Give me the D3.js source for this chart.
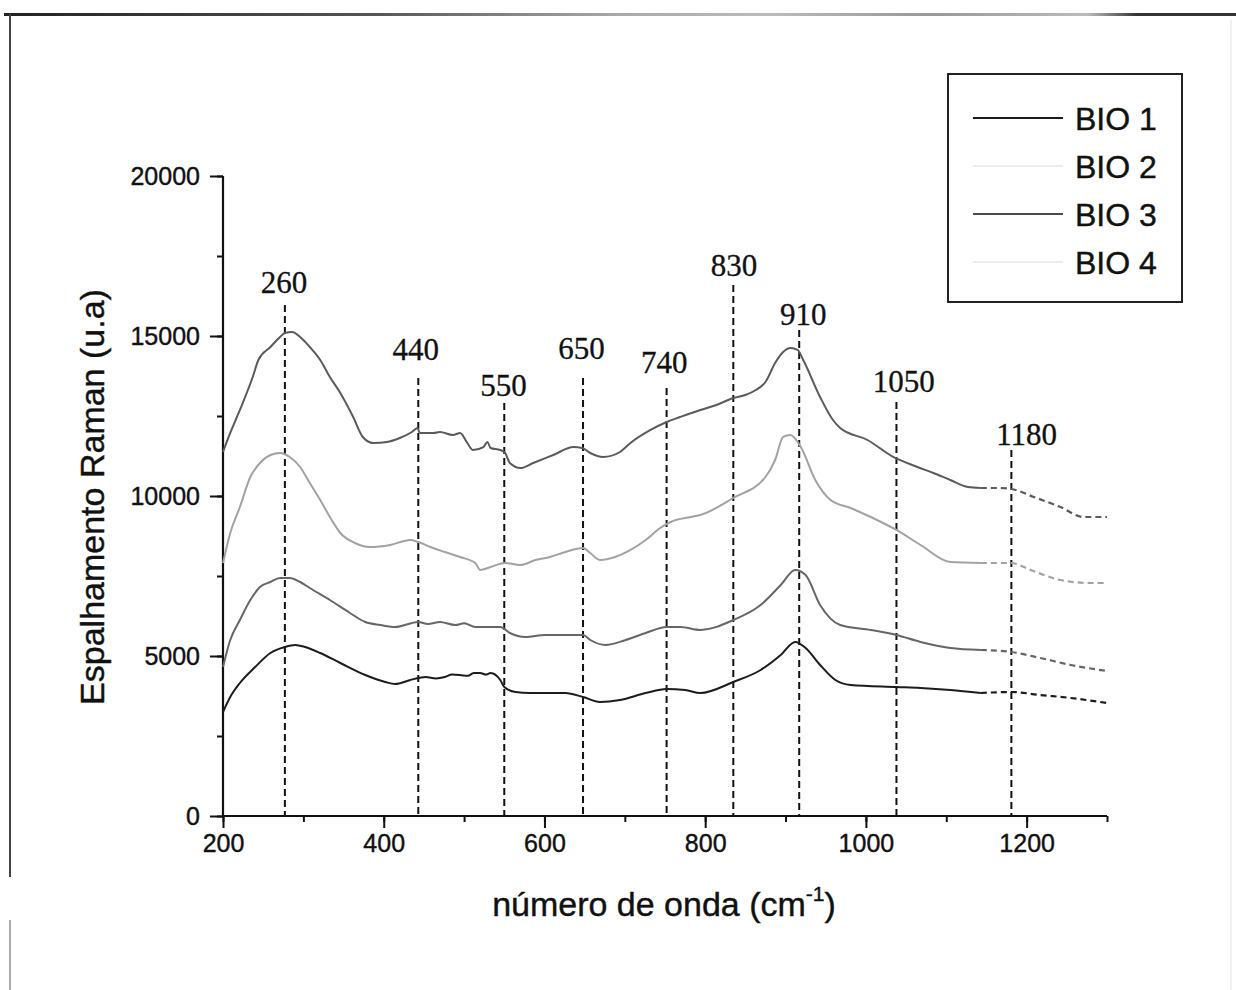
<!DOCTYPE html>
<html>
<head>
<meta charset="utf-8">
<script src="https://cdn.jsdelivr.net/npm/d3@7"></script>
<style>
  html, body { margin: 0; padding: 0; background: #fff; }
  svg { display: block; }
</style>
</head>
<body>
<svg id="chart" width="1236" height="990"></svg>
<script>
// ---------------- DATA ----------------
const seriesNames = ["BIO 1", "BIO 2", "BIO 3", "BIO 4"];

// [wavenumber (cm-1), Raman intensity (u.a)]
const bio1 = [[200,3250],[209,3719],[221,4156],[240,4656],[259,5094],[277,5281],[290,5344],[302,5281],[321,5094],[346,4781],[377,4406],[402,4188],[414,4125],[433,4250],[445,4320],[452,4344],[465,4300],[476,4344],[485,4420],[495,4406],[505,4380],[512,4470],[520,4469],[527,4420],[533,4469],[545,4250],[550,4031],[564,3875],[582,3844],[626,3844],[648,3719],[669,3563],[694,3625],[726,3844],[752,3969],[775,3938],[794,3844],[835,4188],[869,4563],[894,5031],[912,5438],[925,5250],[943,4719],[962,4250],[981,4094],[1038,4031],[1068,4000],[1105,3938],[1143,3844],[1181,3875],[1217,3781],[1255,3688],[1300,3531]];

const bio2 = [[200,7906],[209,8844],[221,9656],[234,10594],[246,11031],[259,11281],[271,11344],[283,11219],[296,10906],[308,10406],[321,9875],[333,9344],[346,8844],[364,8531],[383,8406],[408,8469],[433,8625],[443,8563],[458,8406],[476,8250],[495,8094],[514,7906],[520,7688],[533,7781],[551,7906],[570,7844],[589,8000],[607,8094],[626,8250],[648,8375],[657,8219],[669,8000],[688,8094],[707,8313],[726,8625],[744,9000],[757,9188],[782,9344],[794,9406],[835,9938],[875,10594],[887,11125],[897,11844],[906,11906],[919,11531],[937,10500],[956,9875],[981,9625],[1006,9344],[1038,8938],[1068,8469],[1105,7938],[1143,7906],[1181,7906],[1205,7688],[1242,7375],[1280,7281],[1300,7281]];

const bio3 = [[200,4656],[209,5500],[221,6125],[234,6750],[246,7156],[259,7313],[271,7438],[283,7438],[296,7313],[308,7125],[333,6750],[358,6344],[377,6063],[396,5969],[414,5906],[443,6063],[455,6000],[470,6063],[489,5969],[500,6020],[514,5906],[545,5906],[557,5719],[576,5594],[601,5656],[648,5656],[657,5500],[676,5344],[701,5500],[726,5719],[752,5906],[769,5906],[794,5813],[835,6125],[869,6594],[894,7219],[912,7688],[925,7531],[943,6594],[968,5969],[1006,5813],[1038,5656],[1068,5438],[1105,5250],[1143,5188],[1181,5125],[1217,4938],[1255,4719],[1300,4531]];

const bio4 = [[200,11375],[209,11969],[221,12688],[237,13719],[244,14250],[259,14656],[271,14969],[277,15094],[286,15125],[296,14969],[308,14656],[321,14250],[333,13719],[346,13219],[362,12469],[374,11844],[387,11656],[404,11688],[420,11813],[435,12000],[442,12125],[445,11969],[462,11969],[470,12000],[486,11906],[495,11969],[504,11656],[511,11438],[524,11531],[529,11688],[533,11500],[545,11438],[551,11344],[557,11031],[570,10875],[586,11031],[611,11281],[636,11531],[647,11500],[657,11344],[673,11219],[694,11375],[707,11656],[732,12063],[752,12313],[769,12469],[794,12688],[814,12844],[835,13063],[850,13156],[863,13313],[875,13563],[887,14156],[897,14500],[906,14625],[915,14563],[922,14250],[943,13094],[959,12375],[968,12125],[1002,11750],[1034,11219],[1064,10906],[1084,10719],[1105,10500],[1127,10281],[1143,10250],[1168,10250],[1181,10219],[1209,9969],[1242,9656],[1271,9344],[1300,9344]];

const seriesData = [bio1, bio2, bio3, bio4];

// peak annotations
const peakLabels = ["260", "440", "550", "650", "740", "830", "910", "1050", "1180"];
const peakX      = [277, 443, 550, 648, 752, 835, 917, 1038, 1181];
const peakTop    = [15969, 13688, 12906, 13688, 13375, 16594, 15188, 12938, 11438];
const labelX     = [276, 440, 549, 646, 749, 836, 922, 1047, 1200];
const labelY     = [16344, 14250, 13125, 14281, 13844, 16875, 15344, 13250, 11594];

const xDomain = [200, 1300];
const yDomain = [0, 20000];
const xMajorTicks = [200, 400, 600, 800, 1000, 1200];
const yMajorTicks = [0, 5000, 10000, 15000, 20000];

const xTitle = "número de onda (cm";
const xTitleSup = "-1";
const yTitle = "Espalhamento Raman (u.a)";

// ---------------- STYLE ----------------
const seriesColors = ["#1c1c1c", "#a2a2a2", "#666666", "#5a5a5a"];
const legendColors = ["#1c1c1c", "#ececec", "#4a4a4a", "#ececec"];
const sansFont = "Arial, 'Liberation Sans', Helvetica, sans-serif";
const serifFont = "'Times New Roman', 'Liberation Serif', Times, serif";
const dashStart = 1143;

// ---------------- DRAW ----------------
const svg = d3.select("#chart");
const x = d3.scaleLinear().domain(xDomain).range([223, 1107]);
const y = d3.scaleLinear().domain(yDomain).range([816, 176]);

// outer frame fragments (scan border)
const grad = svg.append("defs").append("linearGradient").attr("id", "topg")
  .attr("x1", "0").attr("x2", "1").attr("y1", "0").attr("y2", "0");
[[0, "#222"], [0.1, "#333"], [0.3, "#555"], [0.5, "#aaa"], [0.62, "#bbb"], [0.75, "#999"], [0.88, "#bbb"], [0.92, "#333"], [1, "#333"]]
  .forEach(s => grad.append("stop").attr("offset", s[0]).attr("stop-color", s[1]));
svg.append("rect").attr("x", 4).attr("y", 13).attr("width", 1232).attr("height", 3).attr("fill", "url(#topg)");
svg.append("line").attr("x1", 10).attr("x2", 10).attr("y1", 14).attr("y2", 877)
  .attr("stroke", "#444").attr("stroke-width", 2);
svg.append("line").attr("x1", 10).attr("x2", 10).attr("y1", 920).attr("y2", 990)
  .attr("stroke", "#aaa").attr("stroke-width", 2);
svg.append("line").attr("x1", 1231).attr("x2", 1231).attr("y1", 20).attr("y2", 990)
  .attr("stroke", "#f0f0f0").attr("stroke-width", 2);

// axes
const xAxisMinor = d3.axisBottom(x).tickValues(d3.range(200, 1301, 100)).tickSize(6).tickFormat("");
const xAxisMajor = d3.axisBottom(x).tickValues(xMajorTicks).tickSize(12).tickPadding(6).tickFormat(d3.format("d"));
const yAxisMinor = d3.axisLeft(y).tickValues(d3.range(0, 20001, 2500)).tickSize(6).tickFormat("");
const yAxisMajor = d3.axisLeft(y).tickValues(yMajorTicks).tickSize(13).tickPadding(10).tickFormat(d3.format("d"));

function styleAxis(g) {
  g.select(".domain").remove();
  g.selectAll("line").attr("stroke", "#111").attr("stroke-width", 2);
  g.selectAll("text").attr("fill", "#111").attr("stroke", "#111").attr("stroke-width", 0.4)
    .style("font-family", sansFont).style("font-size", "25px");
}
svg.append("g").attr("transform", "translate(0,816)").call(xAxisMinor).call(styleAxis);
svg.append("g").attr("transform", "translate(0,816)").call(xAxisMajor).call(styleAxis);
svg.append("g").attr("transform", "translate(223,0)").call(yAxisMinor).call(styleAxis);
svg.append("g").attr("transform", "translate(223,0)").call(yAxisMajor).call(styleAxis);

// axis lines
svg.append("line").attr("x1", x(xDomain[0])).attr("x2", x(xDomain[1])).attr("y1", y(0)).attr("y2", y(0))
  .attr("stroke", "#111").attr("stroke-width", 2.2);
svg.append("line").attr("x1", x(xDomain[0])).attr("x2", x(xDomain[0])).attr("y1", y(yDomain[1])).attr("y2", y(0))
  .attr("stroke", "#111").attr("stroke-width", 2.2);

// peak dashed lines
svg.append("g").selectAll("line").data(peakX).join("line")
  .attr("x1", d => x(d)).attr("x2", d => x(d))
  .attr("y1", (d, i) => y(peakTop[i])).attr("y2", y(0))
  .attr("stroke", "#111").attr("stroke-width", 2).attr("stroke-dasharray", "7,4");

svg.append("g").selectAll("text").data(peakLabels).join("text")
  .attr("x", (d, i) => x(labelX[i])).attr("y", (d, i) => y(labelY[i]))
  .attr("text-anchor", "middle")
  .style("font-family", serifFont).style("font-size", "31px").attr("fill", "#111")
  .attr("stroke", "#111").attr("stroke-width", 0.3)
  .text(d => d);

// curves
const line = d3.line().x(d => x(d[0])).y(d => y(d[1])).curve(d3.curveMonotoneX);
seriesData.forEach((s, i) => {
  const k = s.findIndex(d => d[0] >= dashStart);
  const solid = s.slice(0, k + 1);
  const dashed = s.slice(k);
  svg.append("path").datum(solid).attr("d", line)
    .attr("fill", "none").attr("stroke", seriesColors[i]).attr("stroke-width", 2);
  svg.append("path").datum(dashed).attr("d", line)
    .attr("fill", "none").attr("stroke", seriesColors[i]).attr("stroke-width", 2.2)
    .attr("stroke-dasharray", "6,4");
});

// axis titles
const xt = svg.append("text").attr("x", 664).attr("y", 916).attr("text-anchor", "middle")
  .style("font-family", sansFont).style("font-size", "34px").attr("fill", "#111")
  .attr("stroke", "#111").attr("stroke-width", 0.4);
xt.append("tspan").text(xTitle);
xt.append("tspan").attr("dy", -15).style("font-size", "21px").text(xTitleSup);
xt.append("tspan").attr("dy", 15).text(")");

svg.append("text")
  .attr("transform", "translate(104,497) rotate(-90)")
  .attr("text-anchor", "middle")
  .style("font-family", sansFont).style("font-size", "34px").attr("fill", "#111")
  .attr("stroke", "#111").attr("stroke-width", 0.4)
  .text(yTitle);

// legend
const legend = svg.append("g");
legend.append("rect").attr("x", 948).attr("y", 74).attr("width", 234).attr("height", 228)
  .attr("fill", "none").attr("stroke", "#222").attr("stroke-width", 2);
const legendRows = legend.selectAll("g").data(seriesNames).join("g")
  .attr("transform", (d, i) => `translate(0,${118 + i * 48})`);
legendRows.append("line").attr("x1", 973).attr("x2", 1063).attr("y1", 0).attr("y2", 0)
  .attr("stroke", (d, i) => legendColors[i]).attr("stroke-width", 2.2);
legendRows.append("text").attr("x", 1075).attr("y", 0).attr("dy", "0.36em")
  .style("font-family", sansFont).style("font-size", "32px").attr("fill", "#111")
  .attr("stroke", "#111").attr("stroke-width", 0.4)
  .text(d => d);
</script>
</body>
</html>
